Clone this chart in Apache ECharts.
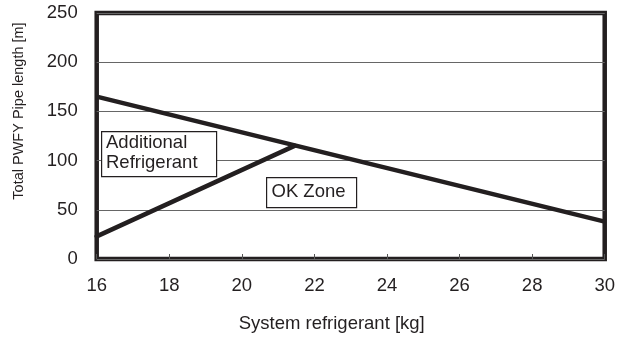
<!DOCTYPE html>
<html>
<head>
<meta charset="utf-8">
<script src="https://cdn.jsdelivr.net/npm/echarts@6/dist/echarts.min.js"></script>
<style>
html,body{margin:0;padding:0;background:#fff;}
#chart{width:618px;height:338px;}
</style>
</head>
<body>
<div id="chart"></div>
<script>
// ---- data ----
const xTicks = [16, 18, 20, 22, 24, 26, 28, 30];
const yTicks = [0, 50, 100, 150, 200, 250];
const upperLimitX = [16, 30];
const upperLimitY = [165, 38];
const lowerLimitX = [16, 21.45];
const lowerLimitY = [23, 115];
const xTitle = 'System refrigerant [kg]';
const yTitle = 'Total PWFY Pipe length [m]';
const zoneLabels = ['Additional\nRefrigerant', 'OK Zone'];

const INK = '#231f20';
const FONT = 'Liberation Sans, Arial, sans-serif';

const chart = echarts.init(document.getElementById('chart'), null, {renderer: 'canvas'});

const toPairs = (xs, ys) => xs.map((x, i) => [x, ys[i]]);

chart.setOption({
  animation: false,
  backgroundColor: '#fff',
  grid: {
    left: 96.7, right: 6, top: 13, bottom: 77.5,
    show: true, borderColor: INK, borderWidth: 4.5, backgroundColor: 'transparent'
  },
  xAxis: {
    type: 'value',
    min: xTicks[0], max: xTicks[xTicks.length - 1], interval: 2,
    axisLine: {show: false},
    axisTick: {show: true, inside: true, length: 5, lineStyle: {color: '#555', width: 1}},
    splitLine: {show: false},
    axisLabel: {fontFamily: FONT, fontSize: 18.5, color: INK, margin: 17},
    name: xTitle, nameLocation: 'middle', nameGap: 55,
    nameTextStyle: {fontFamily: FONT, fontSize: 18.5, color: INK, padding: [0, 38, 0, 0]}
  },
  yAxis: {
    type: 'value',
    min: yTicks[0], max: yTicks[yTicks.length - 1], interval: 50,
    axisLine: {show: false},
    axisTick: {show: false},
    splitLine: {show: true, lineStyle: {color: '#666', width: 1}},
    axisLabel: {fontFamily: FONT, fontSize: 18.5, color: INK, margin: 19},
    name: yTitle, nameLocation: 'middle', nameGap: 70,
    nameTextStyle: {fontFamily: FONT, fontSize: 14.5, color: INK, padding: [0, 0, 0, 50]}
  },
  series: [
    {
      type: 'line', data: toPairs(upperLimitX, upperLimitY),
      showSymbol: false, symbol: 'none', silent: true,
      lineStyle: {color: INK, width: 4.5}, clip: true, z: 3
    },
    {
      type: 'line', data: toPairs(lowerLimitX, lowerLimitY),
      showSymbol: false, symbol: 'none', silent: true,
      lineStyle: {color: INK, width: 4.5, cap: 'round'}, clip: true, z: 3
    }
  ],
  graphic: [
    {
      type: 'rect', left: 101, top: 131, z: 10,
      shape: {width: 115, height: 45},
      style: {fill: '#fff', stroke: INK, lineWidth: 1.2}
    },
    {
      type: 'text', left: 106, top: 133, z: 11,
      style: {text: zoneLabels[0], font: '18.5px ' + FONT, fill: INK, lineHeight: 20}
    },
    {
      type: 'rect', left: 266, top: 177, z: 10,
      shape: {width: 90, height: 30},
      style: {fill: '#fff', stroke: INK, lineWidth: 1.2}
    },
    {
      type: 'text', left: 271.5, top: 182, z: 11,
      style: {text: zoneLabels[1], font: '18.5px ' + FONT, fill: INK, lineHeight: 20}
    }
  ]
});
</script>
</body>
</html>
